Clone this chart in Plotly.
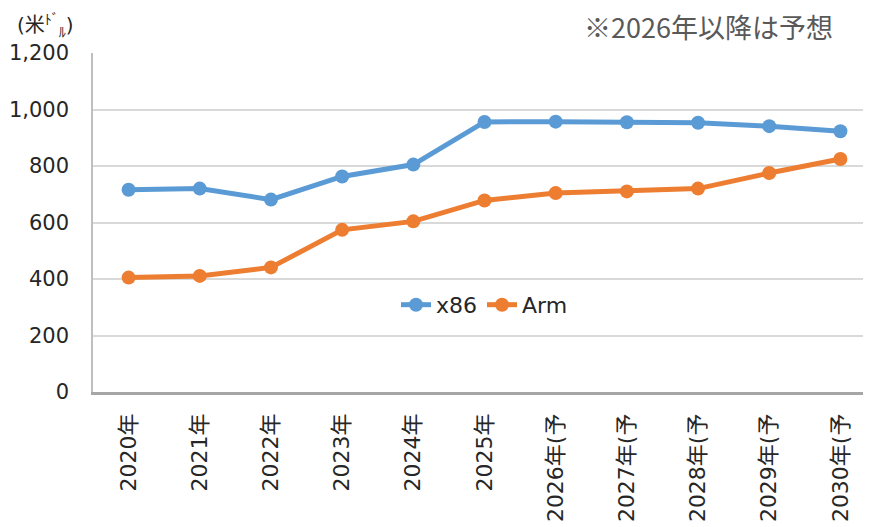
import plotly.graph_objects as go

# data
years = ["2020年", "2021年", "2022年", "2023年", "2024年", "2025年",
         "2026年(予", "2027年(予", "2028年(予", "2029年(予", "2030年(予"]
x86 = [716, 720, 681, 763, 805, 956, 957, 955, 953, 941, 923]
arm = [405, 411, 441, 574, 604, 678, 704, 710, 720, 775, 825]

font = "Verdana, 'DejaVu Sans', 'Noto Sans CJK JP'"

fig = go.Figure()
fig.add_trace(go.Scatter(x=years, y=x86, name="x86", mode="lines+markers",
                         line=dict(color="#5B9BD5", width=5),
                         marker=dict(size=14, color="#5B9BD5")))
fig.add_trace(go.Scatter(x=years, y=arm, name="Arm", mode="lines+markers",
                         line=dict(color="#ED7D31", width=5),
                         marker=dict(size=14, color="#ED7D31")))

# the page body adds an 8px offset, so margins are shifted by that
fig.update_layout(
    width=871, height=527,
    margin=dict(l=85, r=3, t=45, b=143),
    plot_bgcolor="white", paper_bgcolor="white",
    font=dict(family=font, size=22, color="#262626"),
    showlegend=True,
    legend=dict(orientation="h", x=0.5, y=0.257, xanchor="center", yanchor="middle",
                font=dict(size=22, color="#262626"), bgcolor="rgba(0,0,0,0)"),
    xaxis=dict(range=[-0.5, 10.5], tickangle=-90, showgrid=False, automargin=False,
               showline=True, linecolor="#A6A6A6", linewidth=2.5, ticks="",
               ticklabelstandoff=10),
    yaxis=dict(range=[0, 1200], dtick=200, tickformat=",d", automargin=False,
               tickfont=dict(size=21),
               showgrid=True, gridcolor="#D9D9D9", gridwidth=2,
               zeroline=False, showline=True, linecolor="#BFBFBF", linewidth=1.5,
               ticks="", ticklabelstandoff=18),
)

fig.add_annotation(text="(米<sup>ﾄﾞ</sup><sub>ﾙ</sub>)", xref="paper", yref="paper",
                   x=-0.1, y=1.08, xanchor="left", yanchor="middle", showarrow=False,
                   font=dict(size=20, color="#262626"))
fig.add_annotation(text="※2026年以降は予想", xref="paper", yref="paper",
                   x=0.948, y=1.078, xanchor="right", yanchor="middle", showarrow=False,
                   font=dict(size=27, color="#595959",
                             family="'Noto Sans CJK JP', Verdana, 'DejaVu Sans'"))

fig.write_html("out.html")
